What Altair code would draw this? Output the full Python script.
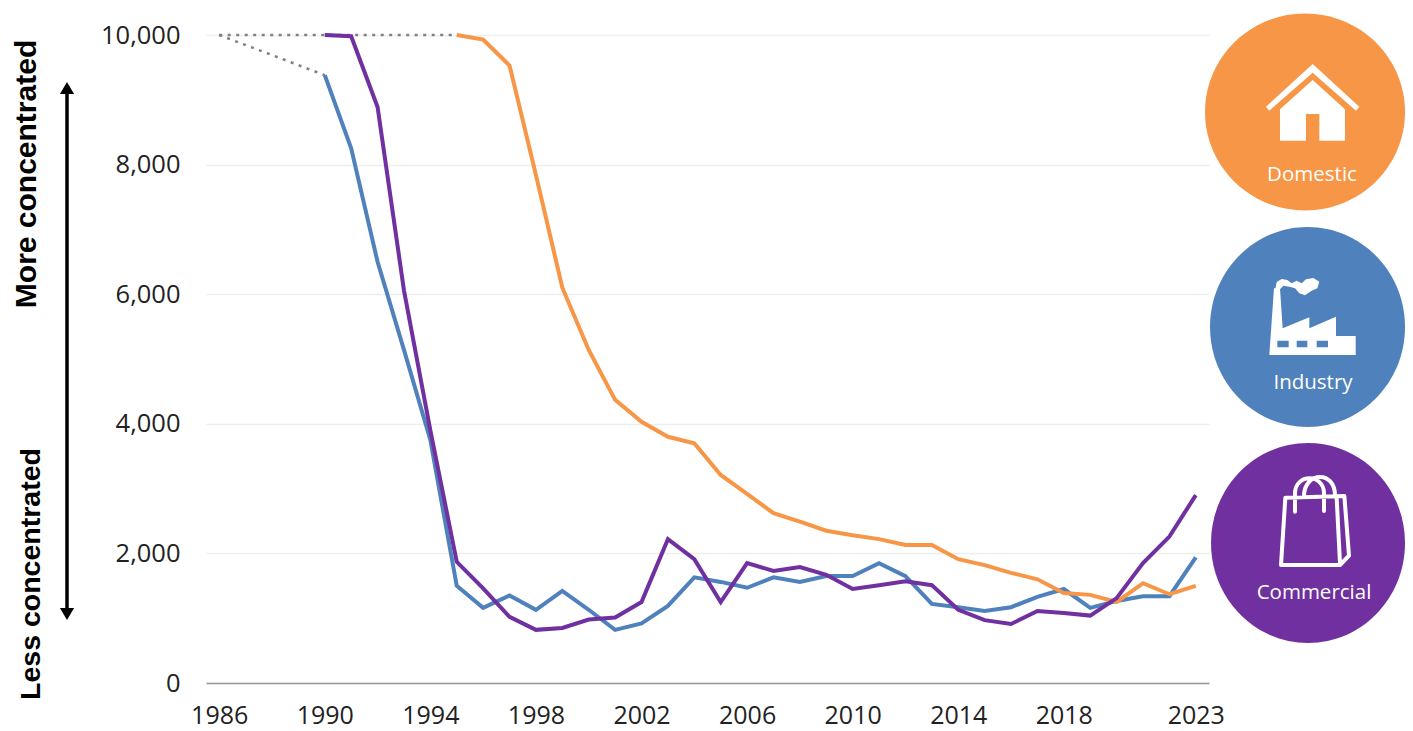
import altair as alt
import pandas as pd

years = list(range(1986, 2024))
tick_years = [1986, 1990, 1994, 1998, 2002, 2006, 2010, 2014, 2018, 2023]
y_ticks = [0, 2000, 4000, 6000, 8000, 10000]

domestic_start = 1995
domestic = [10000, 9930, 9530, 7840, 6100, 5140, 4370, 4030, 3800, 3700, 3210, 2920, 2620, 2490, 2350,
            2280, 2220, 2130, 2130, 1910, 1820, 1700, 1600, 1390, 1360, 1250, 1540, 1370, 1500]
industry_start = 1990
industry = [9380, 8250, 6500, 5140, 3750, 1500, 1160, 1350, 1130, 1420, 1130, 820, 920, 1190, 1630,
            1560, 1470, 1630, 1560, 1650, 1650, 1850, 1650, 1220, 1170, 1110, 1170, 1330, 1450, 1160,
            1265, 1340, 1340, 1940]
commercial_start = 1990
commercial = [10000, 9980, 8890, 6060, 3900, 1870, 1460, 1020, 820, 850, 980, 1010, 1250, 2220, 1910,
              1250, 1850, 1730, 1790, 1670, 1450, 1510, 1570, 1510, 1130, 970, 910, 1110, 1080, 1040,
              1310, 1850, 2260, 2900]
dot_years_a = [1986, 1990]
dot_values_a = [10000, 9380]
dot_years_b = [1986, 1995]
dot_values_b = [10000, 10000]

ORANGE, BLUE, PURPLE = "#F79646", "#4F81BD", "#7030A0"
LEFT, TOP, PW, PH = 206, 35, 1003, 648

x_enc = alt.X("year:O", title=None,
              scale=alt.Scale(type="point", domain=years, padding=0.5),
              axis=alt.Axis(values=tick_years, labelAngle=0, ticks=False, grid=False,
                            domainColor="#999999", domainWidth=1.5, labelPadding=32.5,
                            labelFontSize=25, labelFont="Open Sans", labelColor="#222222",
                            labelOverlap=False, labelBaseline="middle"))
y_enc = alt.Y("value:Q", title=None,
              scale=alt.Scale(domain=[0, 10000], nice=False),
              axis=alt.Axis(values=y_ticks, format=",.0f", ticks=False, domain=False, grid=True,
                            gridColor="#EEEEEE", gridWidth=1.5, labelPadding=26,
                            labelFontSize=25.5, labelFont="Open Sans", labelColor="#222222"))


def series(ys, vs, color, width=4, **kw):
    df = pd.DataFrame({"year": ys, "value": vs})
    return alt.Chart(df).mark_line(color=color, strokeWidth=width, **kw).encode(x=x_enc, y=y_enc)


def run(start, vals):
    return [start + i for i in range(len(vals))]


ONE = alt.Data(values=[{}])


def sym(px, py, shape, size, fill=None, stroke=None, sw=0):
    kw = {"shape": shape, "size": size, "opacity": 1}
    if fill:
        kw.update(filled=True, fill=fill, strokeWidth=0)
    else:
        kw.update(filled=False, stroke=stroke, strokeWidth=sw, strokeJoin="round", strokeCap="round")
    return alt.Chart(ONE).mark_point(**kw).encode(x=alt.value(px - LEFT), y=alt.value(py - TOP))


def label(px, py, text, size, color="#FFFFFF", font="Open Sans", **kw):
    return alt.Chart(ONE).mark_text(text=text, fontSize=size, font=font, color=color, **kw).encode(
        x=alt.value(px - LEFT), y=alt.value(py - TOP))


def poly(points, cx, cy, R=150.0):
    return "M" + " L".join(f"{(x - cx) / R:.3f},{(y - cy) / R:.3f}" for x, y in points) + " Z"


def ellipse(w, h):
    m = max(w, h)
    a, b = w / m, h / m
    return f"M{-a:.3f},0 A{a:.3f},{b:.3f} 0 1 0 {a:.3f},0 A{a:.3f},{b:.3f} 0 1 0 {-a:.3f},0 Z", m ** 2


# icons
hx, hy = 337, 310
house = " ".join([
    poly([(198, 320), (338, 192), (478, 320), (468, 332), (338, 218), (208, 332)], hx, hy),
    poly([(240, 328), (338, 240), (435, 328), (435, 422), (358, 422), (358, 342), (318, 342), (318, 422), (240, 422)], hx, hy),
])
fx, fy = 337, 290
factory = " ".join([
    poly([(222, 205), (240, 205), (248, 325), (328, 292), (328, 325), (408, 290), (408, 348), (467, 348), (467, 405), (208, 405)], fx, fy),
    poly([(232, 362), (232, 382), (266, 382), (266, 362)], fx, fy),
    poly([(290, 362), (290, 382), (322, 382), (322, 362)], fx, fy),
    poly([(350, 362), (350, 382), (384, 382), (384, 362)], fx, fy),
    poly([(226, 208), (230, 186), (245, 177), (262, 180), (275, 190), (290, 182), (305, 190), (318, 178), (340, 174),
          (358, 185), (352, 205), (335, 212), (315, 226), (298, 220), (285, 205), (268, 200), (250, 197), (240, 208)], fx, fy),
])
bx, by = 345, 255


def pt(x, y):
    return f"{(x - bx) / 150:.3f},{(y - by) / 150:.3f}"


bag = " ".join([
    "M" + pt(256, 188) + " L" + pt(433, 183) + " L" + pt(447, 362) + " L" + pt(420, 390) + " L" + pt(243, 390) + " Z",
    "M" + pt(410, 188) + " L" + pt(420, 385),
    "M" + pt(285, 230) + " L" + pt(285, 175) + " C" + pt(285, 115) + " " + pt(372, 115) + " " + pt(372, 175) + " L" + pt(372, 228),
    "M" + pt(312, 180) + " C" + pt(315, 110) + " " + pt(405, 105) + " " + pt(405, 182),
])

e1, s1 = ellipse(200, 197)
e2, s2 = ellipse(195, 200)
e3, s3 = ellipse(194, 200)

layers = [
    series(dot_years_a, dot_values_a, "#808080", 2.5, strokeDash=[3, 5.5]),
    series(dot_years_b, dot_values_b, "#808080", 2.5, strokeDash=[3, 5.5]),
    series(run(industry_start, industry), industry, BLUE),
    series(run(domestic_start, domestic), domestic, ORANGE),
    series(run(commercial_start, commercial), commercial, PURPLE),
    # concentration arrow
    alt.Chart(ONE).mark_rule(color="#000000", strokeWidth=3.5).encode(
        x=alt.value(67 - LEFT), y=alt.value(88 - TOP), y2=alt.value(616 - TOP)),
    sym(67, 88, "triangle-up", 200, fill="#000000"),
    sym(67, 614, "triangle-down", 200, fill="#000000"),
    label(27, 174, "More concentrated", 30, color="#000000", font="Liberation Sans", fontWeight="bold",
          angle=270, align="center", baseline="middle"),
    label(31, 574, "Less concentrated", 28.5, color="#000000", font="Liberation Sans", fontWeight="bold",
          angle=270, align="center", baseline="middle"),
    # badges
    sym(1305, 112, e1, s1, fill=ORANGE),
    sym(1307.5, 327, e2, s2, fill=BLUE),
    sym(1308, 543, e3, s3, fill=PURPLE),
    sym(1200 + hx / 3, hy / 3, house, 10000, fill="#FFFFFF"),
    sym(1200 + fx / 3, 220 + fy / 3, factory, 10000, fill="#FFFFFF"),
    sym(1200 + bx / 3, 435 + by / 3, bag, 10000, stroke="#FFFFFF", sw=4),
    label(1312, 175, "Domestic", 20.5, align="center", baseline="middle"),
    label(1313, 383, "Industry", 20.5, align="center", baseline="middle"),
    label(1314, 593, "Commercial", 20.5, align="center", baseline="middle"),
]

chart = alt.layer(*layers).properties(
    width=PW, height=PH,
    background="#FFFFFF",
    autosize=alt.AutoSizeParams(type="none"),
    padding={"left": LEFT - 8, "top": TOP - 8, "right": 1397 - (LEFT - 8) - PW, "bottom": 723 - (TOP - 8) - PH},
).configure_view(stroke=None)

chart.save("out.html", embed_options={"renderer": "svg", "actions": False})
